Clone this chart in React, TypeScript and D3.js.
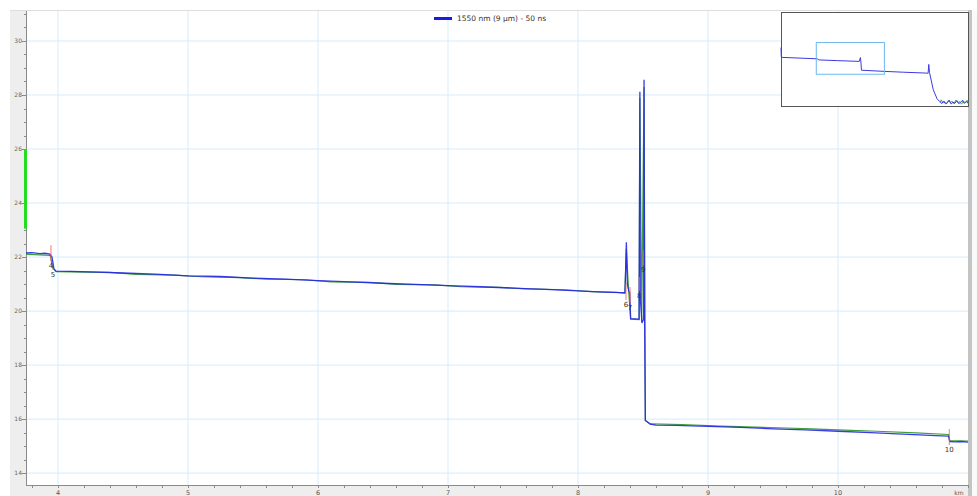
import React from "react";
import * as d3 from "d3";

// Trace 1550 nm (blue) — km / dB
const blueKm = [3.754, 3.8, 3.86, 3.9, 3.938, 3.954, 3.969, 3.985, 4.1, 4.25, 4.5, 4.75, 5.0, 5.25, 5.5, 5.75, 6.0, 6.25, 6.5, 6.75, 7.0, 7.25, 7.5, 7.75, 8.0, 8.2, 8.33, 8.362, 8.372, 8.38, 8.39, 8.398, 8.405, 8.47, 8.476, 8.479, 8.492, 8.505, 8.508, 8.512, 8.518, 8.554, 8.6, 8.75, 9.0, 9.25, 9.5, 9.75, 10.0, 10.25, 10.5, 10.75, 10.85, 10.86, 10.9, 10.95, 11.0];
const blueDb = [22.15, 22.16, 22.13, 22.14, 22.11, 22.0, 21.56, 21.48, 21.47, 21.45, 21.41, 21.37, 21.3, 21.28, 21.22, 21.18, 21.13, 21.08, 21.03, 20.99, 20.94, 20.9, 20.85, 20.8, 20.75, 20.7, 20.68, 20.68, 22.55, 21.0, 20.75, 20.7, 19.72, 19.7, 28.12, 20.5, 19.56, 19.7, 28.56, 20.0, 15.96, 15.81, 15.78, 15.77, 15.73, 15.69, 15.64, 15.6, 15.55, 15.5, 15.44, 15.39, 15.37, 15.17, 15.16, 15.17, 15.15];

// Reference trace (green)
const greenKm = [3.754, 3.82, 3.9, 3.94, 3.96, 3.985, 4.2, 4.4, 4.6, 4.9, 5.1, 5.4, 5.6, 5.9, 6.1, 6.4, 6.6, 6.9, 7.1, 7.4, 7.6, 7.9, 8.1, 8.3, 8.36, 8.372, 8.39, 8.405, 8.47, 8.476, 8.49, 8.508, 8.518, 8.56, 8.8, 9.1, 9.3, 9.6, 9.8, 10.1, 10.3, 10.6, 10.85, 10.86, 11.0];
const greenDb = [22.1, 22.09, 22.07, 22.06, 21.6, 21.46, 21.44, 21.43, 21.36, 21.33, 21.27, 21.24, 21.18, 21.16, 21.08, 21.06, 20.99, 20.97, 20.9, 20.88, 20.82, 20.79, 20.72, 20.69, 20.66, 22.3, 20.72, 19.7, 19.68, 27.9, 19.6, 28.3, 15.94, 15.82, 15.8, 15.74, 15.71, 15.67, 15.64, 15.58, 15.55, 15.49, 15.43, 15.2, 15.19];

// Event markers
const markerIds = ["4", "5", "6", "7", "8", "9", "10"];
const markerKm = [3.946, 3.962, 8.369, 8.4, 8.472, 8.502, 10.856];
const markerHi = [22.44, 21.6, 21.04, 20.89, 21.26, 22.26, 15.63];
const markerLo = [21.85, 21.52, 20.41, 20.3, 20.75, 21.7, 15.04];

// Axes
const xTicks = [4, 5, 6, 7, 8, 9, 10];
const yTicks = [14, 16, 18, 20, 22, 24, 26, 28, 30];
const xDomain = [3.754, 11.0];
const yDomain = [13.56, 31.11];
const attenuationBar = [23.05, 26.0];

// Overview (full fibre) trace
const overviewKm = [0, 0.03, 0.1, 1.5, 3.9, 4.0, 6.0, 8.33, 8.45, 8.5, 8.56, 11.0, 13.0, 15.5, 15.65, 15.72, 15.8, 16.2, 16.6, 16.9, 17.1, 17.3, 17.5, 17.7, 17.9, 18.1, 18.3, 18.5, 18.7, 18.9, 19.1, 19.3, 19.5, 19.7, 19.9];
const overviewDb = [28.3, 23.2, 22.9, 22.6, 22.1, 21.5, 21.1, 20.68, 22.8, 20.4, 15.8, 15.15, 14.7, 14.2, 14.1, 19.0, 14.5, 5.0, 0.0, -1.6, -2.6, -1.2, -2.8, -2.2, -0.8, -2.9, -1.9, -2.5, -1.0, -2.7, -2.0, -0.9, -2.6, -1.5, -2.4];
const overviewNoiseKm = [16.9, 17.05, 17.2, 17.4, 17.6, 17.8, 18.0, 18.2, 18.4, 18.6, 18.8, 19.0, 19.2, 19.4, 19.6, 19.8, 19.9];
const overviewNoiseDb = [-2.0, -0.6, -2.4, -1.5, -2.9, -0.9, -2.2, -1.3, -2.8, -0.7, -2.1, -1.6, -3.0, -1.1, -2.3, -0.8, -2.6];

const legendLabel = "1550 nm (9 µm) - 50 ns";

const W = 977;
const H = 496;
const FONT = "'DejaVu Sans', Verdana, sans-serif";

export default function App() {
  const plot = { left: 26, right: 968, top: 11, bottom: 485 };
  const x = d3.scaleLinear().domain(xDomain).range([plot.left, plot.right]);
  const y = d3.scaleLinear().domain(yDomain).range([plot.bottom, plot.top]);

  const line = d3
    .line<[number, number]>()
    .x((d) => x(d[0]))
    .y((d) => y(d[1]));

  const bluePts = blueKm.map((k, i) => [k, blueDb[i]] as [number, number]);
  const greenPts = greenKm.map((k, i) => [k, greenDb[i]] as [number, number]);

  const xMinor = d3.range(3.8, 11.0001, 0.2);
  const yMinor = d3.range(14, 31.0001, 0.5);

  // Overview inset
  const inset = { left: 781, right: 969, top: 12, bottom: 106 };
  const ix = d3.scaleLinear().domain([0, 20]).range([inset.left, inset.right]);
  const iy = d3.scaleLinear().domain([-4, 48]).range([inset.bottom, inset.top]);
  const iline = d3
    .line<[number, number]>()
    .x((d) => ix(d[0]))
    .y((d) => iy(d[1]));
  const ovPts = overviewKm.map((k, i) => [k, overviewDb[i]] as [number, number]);
  const ovNoise = overviewNoiseKm.map((k, i) => [k, overviewNoiseDb[i]] as [number, number]);

  return (
    <svg
      width={W}
      height={H}
      style={{ position: "absolute", left: 0, top: 0, background: "#fff" }}
      fontFamily={FONT}
    >
      {/* frame background */}
      <rect x={10} y={10} width={W - 10} height={H - 10} fill="#eeeeee" />
      <rect
        x={plot.left}
        y={plot.top}
        width={plot.right - plot.left}
        height={plot.bottom - plot.top}
        fill="#ffffff"
      />
      <line x1={10} x2={970} y1={10.5} y2={10.5} stroke="#dddddd" />
      <rect x={968} y={10} width={4} height={H - 10} fill="#c4c4c4" />
      <rect x={972} y={10} width={5} height={H - 10} fill="#fafafa" />

      {/* grid */}
      {xTicks.map((t) => (
        <line
          key={"gx" + t}
          x1={x(t)}
          x2={x(t)}
          y1={plot.top}
          y2={plot.bottom}
          stroke="#d6ebfb"
          strokeWidth={1}
        />
      ))}
      {yTicks.map((t) => (
        <line
          key={"gy" + t}
          x1={plot.left}
          x2={plot.right}
          y1={y(t)}
          y2={y(t)}
          stroke="#d6ebfb"
          strokeWidth={1}
        />
      ))}

      {/* left axis */}
      <line x1={plot.left + 0.5} x2={plot.left + 0.5} y1={plot.top} y2={plot.bottom} stroke="#8a8a8a" />
      {yMinor.map((t) => (
        <line
          key={"ym" + t}
          x1={plot.left - (Math.abs(t % 2) < 1e-6 ? 4 : 2)}
          x2={plot.left}
          y1={Math.round(y(t)) + 0.5}
          y2={Math.round(y(t)) + 0.5}
          stroke="#8a8a8a"
        />
      ))}
      {yTicks.map((t) => (
        <text
          key={"yl" + t}
          x={plot.left - 4}
          y={y(t)}
          dy="0.35em"
          textAnchor="end"
          fontSize={6}
          fill="#666"
        >
          {t}
        </text>
      ))}
      <rect
        x={plot.left - 2}
        y={y(attenuationBar[1])}
        width={3}
        height={y(attenuationBar[0]) - y(attenuationBar[1])}
        fill="#22dd22"
      />

      {/* bottom axis */}
      <line x1={plot.left} x2={plot.right} y1={plot.bottom + 0.5} y2={plot.bottom + 0.5} stroke="#8a8a8a" />
      {xMinor.map((t) => (
        <line
          key={"xm" + t.toFixed(1)}
          x1={Math.round(x(t)) + 0.5}
          x2={Math.round(x(t)) + 0.5}
          y1={plot.bottom}
          y2={plot.bottom + 3}
          stroke="#8a8a8a"
        />
      ))}
      {xTicks.map((t) => (
        <text key={"xl" + t} x={x(t)} y={plot.bottom + 10} textAnchor="middle" fontSize={6.5} fill="#555">
          {t}
        </text>
      ))}
      <text x={959} y={plot.bottom + 10} textAnchor="middle" fontSize={6} fill="#555">
        km
      </text>

      {/* traces */}
      <path d={line(greenPts) || ""} fill="none" stroke="#3f9f3f" strokeWidth={1.2} />
      <path d={line(bluePts) || ""} fill="none" stroke="#2626e6" strokeWidth={1.3} strokeOpacity={0.9} />

      {/* event markers */}
      {markerIds.map((id, i) => (
        <g key={"m" + id}>
          <line
            x1={x(markerKm[i])}
            x2={x(markerKm[i])}
            y1={y(markerHi[i])}
            y2={y(markerLo[i])}
            stroke="#ff5a5a"
            strokeOpacity={0.85}
            strokeWidth={1}
          />
          <text
            x={x(markerKm[i])}
            y={y(markerLo[i]) + 7}
            textAnchor="middle"
            fontSize={7}
            fill="#333"
          >
            {id}
          </text>
        </g>
      ))}

      {/* legend */}
      <line x1={434} x2={452} y1={18.5} y2={18.5} stroke="#1a1ae6" strokeWidth={3} />
      <text x={457} y={21} fontSize={7.5} fill="#333">
        {legendLabel}
      </text>

      {/* overview inset */}
      <rect
        x={inset.left + 0.5}
        y={inset.top + 0.5}
        width={inset.right - inset.left - 1}
        height={inset.bottom - inset.top}
        fill="#ffffff"
        stroke="#555"
        strokeWidth={1}
      />
      <path d={iline(ovNoise) || ""} fill="none" stroke="#4fb04f" strokeWidth={1} />
      <path d={iline(ovPts) || ""} fill="none" stroke="#3a3ae0" strokeWidth={1} />
      <rect
        x={ix(xDomain[0])}
        y={iy(yDomain[1])}
        width={ix(xDomain[1]) - ix(xDomain[0])}
        height={iy(yDomain[0]) - iy(yDomain[1])}
        fill="none"
        stroke="#6cb8f2"
        strokeWidth={1}
      />
    </svg>
  );
}
